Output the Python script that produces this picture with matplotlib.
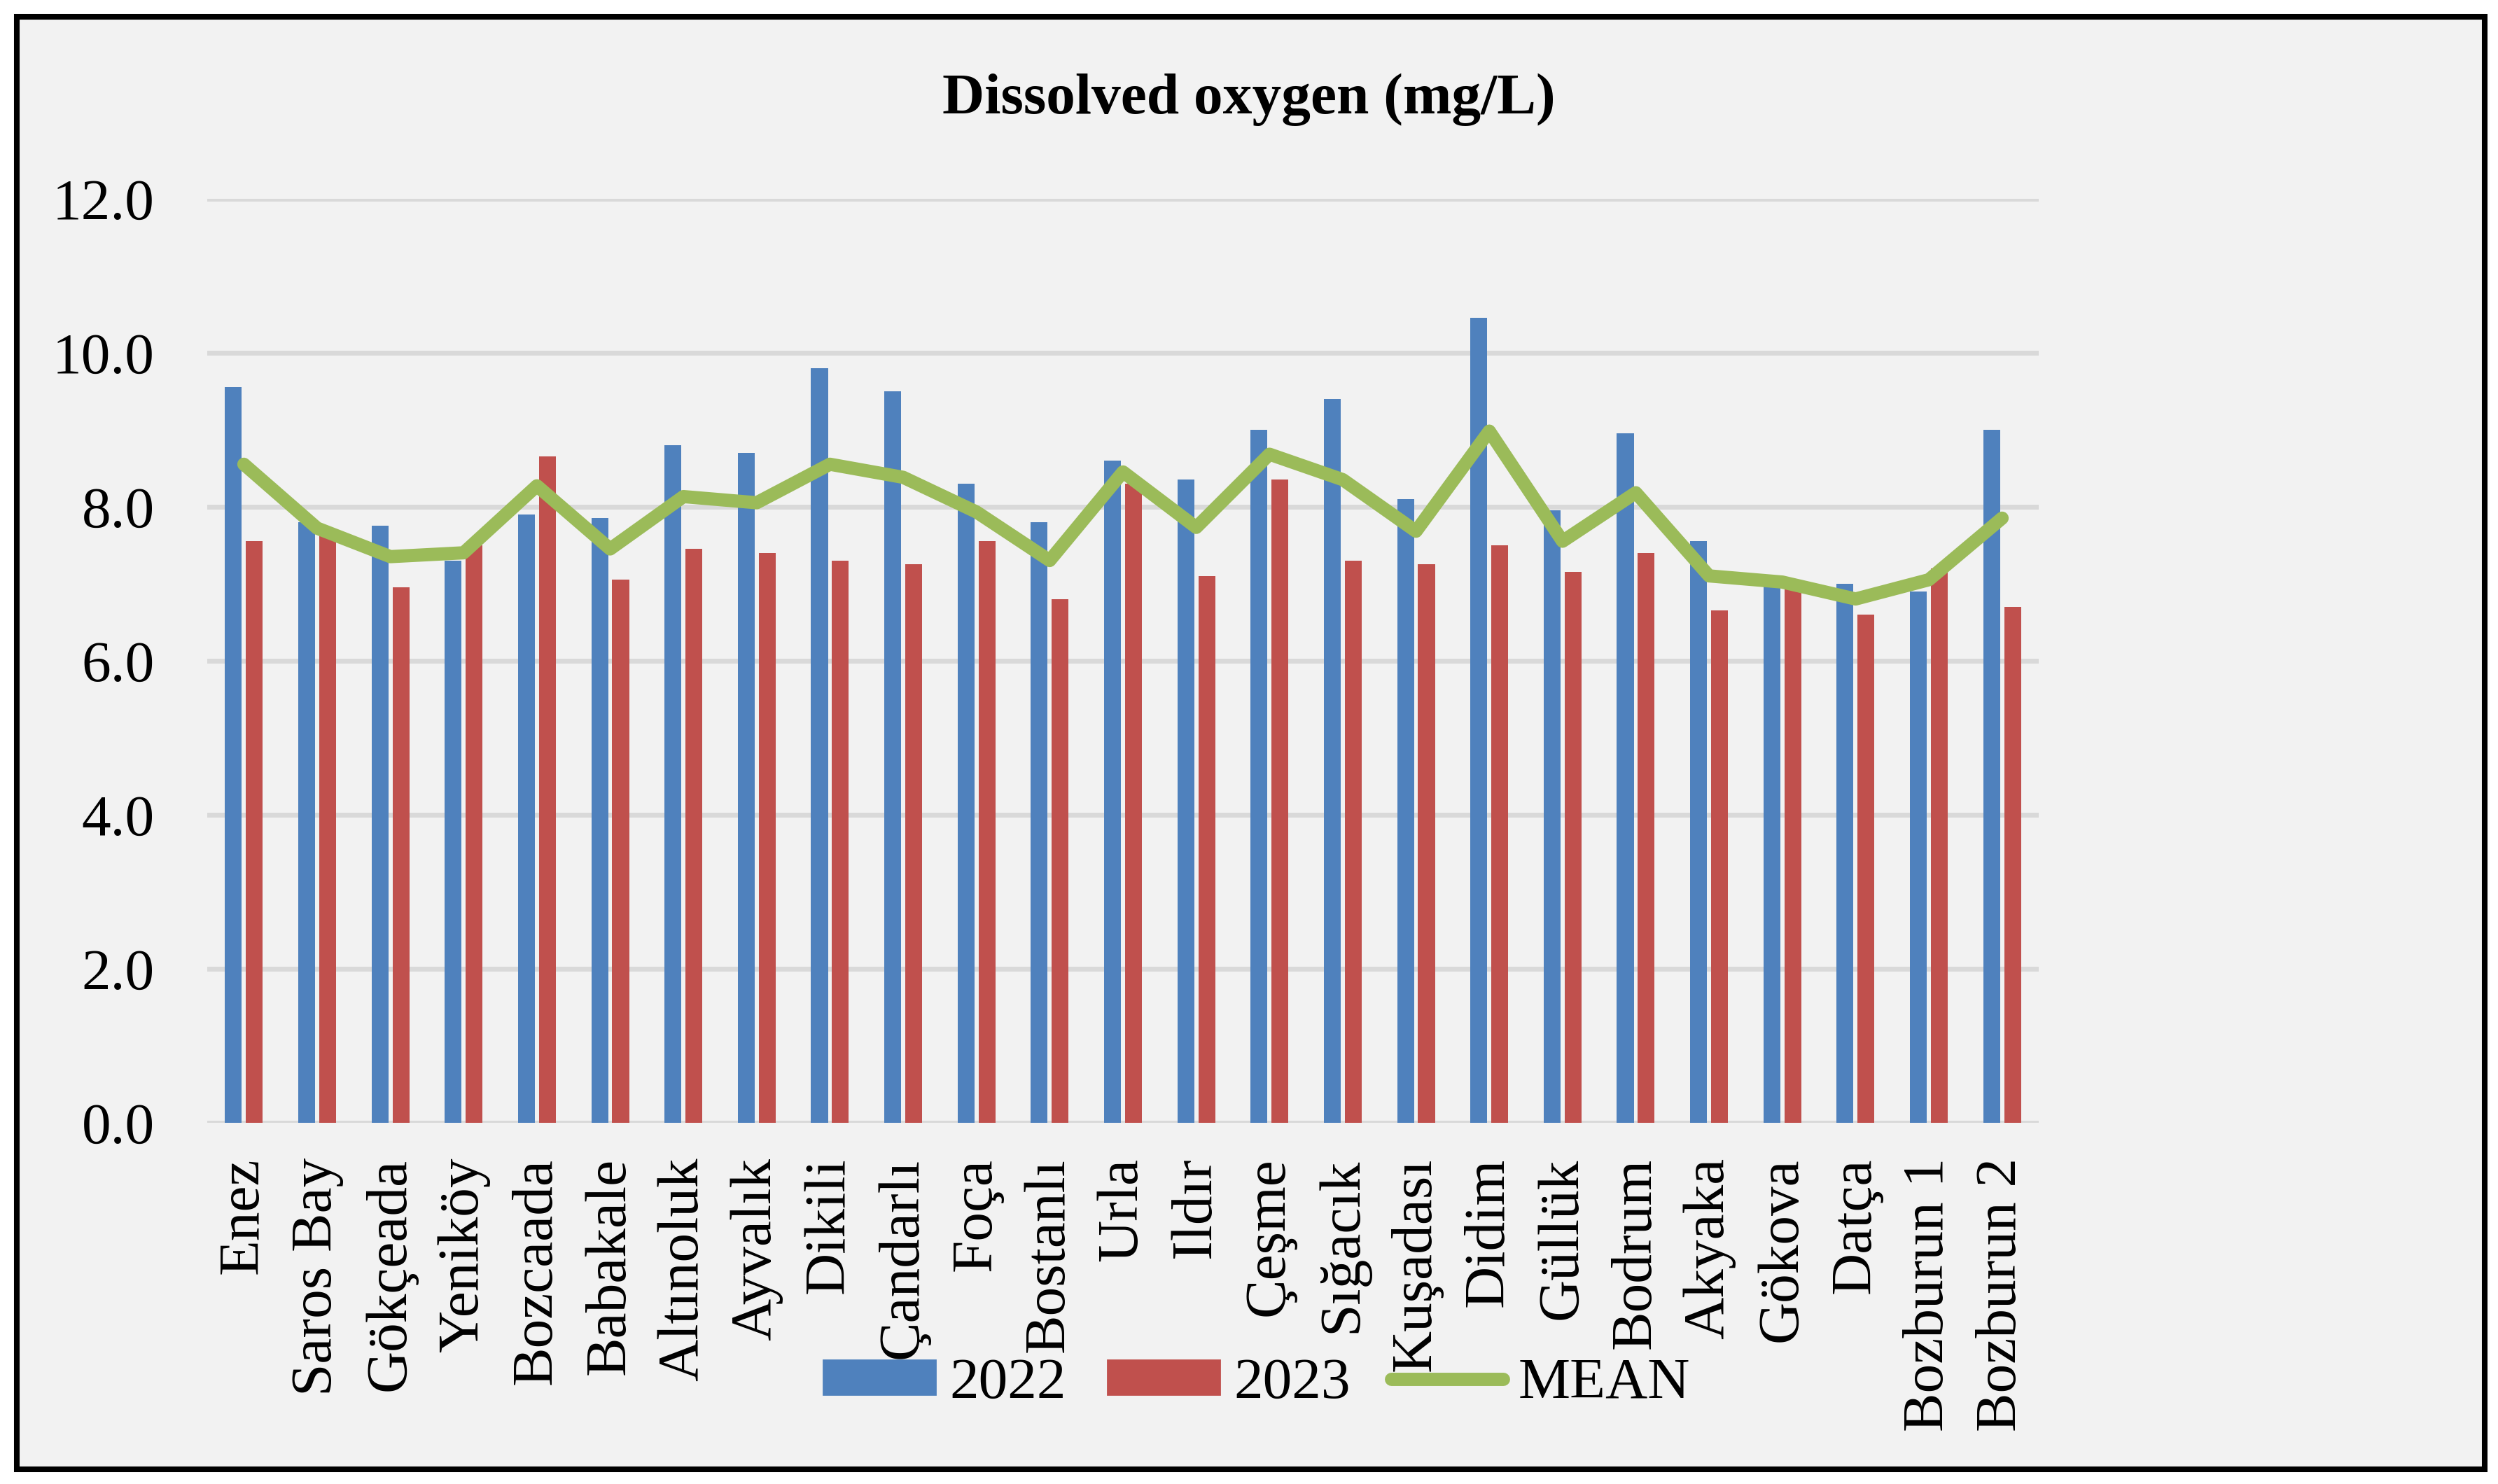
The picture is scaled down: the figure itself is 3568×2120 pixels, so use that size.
import matplotlib.pyplot as plt
from matplotlib.patches import Rectangle, Patch
from matplotlib.lines import Line2D
import numpy as np

plt.rcParams['font.family'] = ['Liberation Serif', 'DejaVu Serif']

sites = ['Enez', 'Saros Bay', 'Gökçeada', 'Yeniköy', 'Bozcaada', 'Babakale',
         'Altınoluk', 'Ayvalık', 'Dikili', 'Çandarlı', 'Foça', 'Bostanlı',
         'Urla', 'Ildır', 'Çeşme', 'Sığacık', 'Kuşadası', 'Didim', 'Güllük',
         'Bodrum', 'Akyaka', 'Gökova', 'Datça', 'Bozburun 1', 'Bozburun 2']
do_2022 = [9.55, 7.80, 7.75, 7.30, 7.90, 7.85, 8.80, 8.70, 9.80, 9.50, 8.30, 7.80,
           8.60, 8.35, 9.00, 9.40, 8.10, 10.45, 7.95, 8.95, 7.55, 7.10, 7.00, 6.90, 9.00]
do_2023 = [7.55, 7.65, 6.95, 7.50, 8.65, 7.05, 7.45, 7.40, 7.30, 7.25, 7.55, 6.80,
           8.30, 7.10, 8.35, 7.30, 7.25, 7.50, 7.15, 7.40, 6.65, 6.95, 6.60, 7.20, 6.70]
do_mean = [8.55, 7.72, 7.35, 7.40, 8.27, 7.45, 8.13, 8.05, 8.55, 8.38, 7.93, 7.30,
           8.45, 7.73, 8.68, 8.35, 7.68, 8.98, 7.55, 8.18, 7.10, 7.02, 6.80, 7.05, 7.85]
yticks = [0, 2, 4, 6, 8, 10, 12]

blue = '#4f81bd'
red = '#c0504d'
green = '#9bbb59'
bg = '#f2f2f2'

W, H = 3568, 2120
fig = plt.figure(figsize=(W / 200, H / 200), dpi=200, facecolor='white')

# outer frame of the chart
fig.add_artist(Rectangle((23.5 / W, 1 - 2099 / H), (3549 - 23.5) / W, (2099 - 23.5) / H,
                         transform=fig.transFigure, facecolor=bg, edgecolor='black',
                         linewidth=2.9, zorder=0))

ax = fig.add_axes([296 / W, 1 - 1603.7 / H, (2912 - 296) / W, (1603.7 - 283.7) / H])
ax.patch.set_alpha(0)

x = np.arange(len(sites))
w = 0.23
ax.bar(x - 0.143, do_2022, w, color=blue, zorder=2)
ax.bar(x + 0.143, do_2023, w, color=red, zorder=2)
ax.plot(x, do_mean, color=green, lw=6.8, solid_capstyle='round',
        solid_joinstyle='round', zorder=3)

ax.set_xlim(-0.5, len(sites) - 0.5)
ax.set_ylim(0, 12)
ax.set_yticks(yticks)
ax.set_yticklabels(['%.1f' % v for v in yticks], fontsize=30)
ax.set_xticks(x)
ax.set_xticklabels(sites, rotation=90, fontsize=30)
ax.tick_params(axis='y', length=0, pad=27)
ax.tick_params(axis='x', length=0, pad=18)
ax.grid(axis='y', color='#d9d9d9', lw=2.5, zorder=1)
ax.set_axisbelow(True)
for s in ax.spines.values():
    s.set_visible(False)

fig.text(0.5, 1 - 162 / H, 'Dissolved oxygen (mg/L)', ha='center', va='baseline',
         fontsize=30, fontweight='bold')

handles = [Patch(color=blue), Patch(color=red),
           Line2D([0], [0], color=green, lw=6.8, solid_capstyle='round')]
fig.legend(handles, ['2022', '2023', 'MEAN'], loc='center',
           bbox_to_anchor=(0.503, 1 - 1977 / H), ncol=3, frameon=False, fontsize=30,
           handlelength=1.92, handleheight=0.52, handletextpad=0.25, columnspacing=0.7)

fig.savefig('out.png', dpi=200, facecolor='white')
